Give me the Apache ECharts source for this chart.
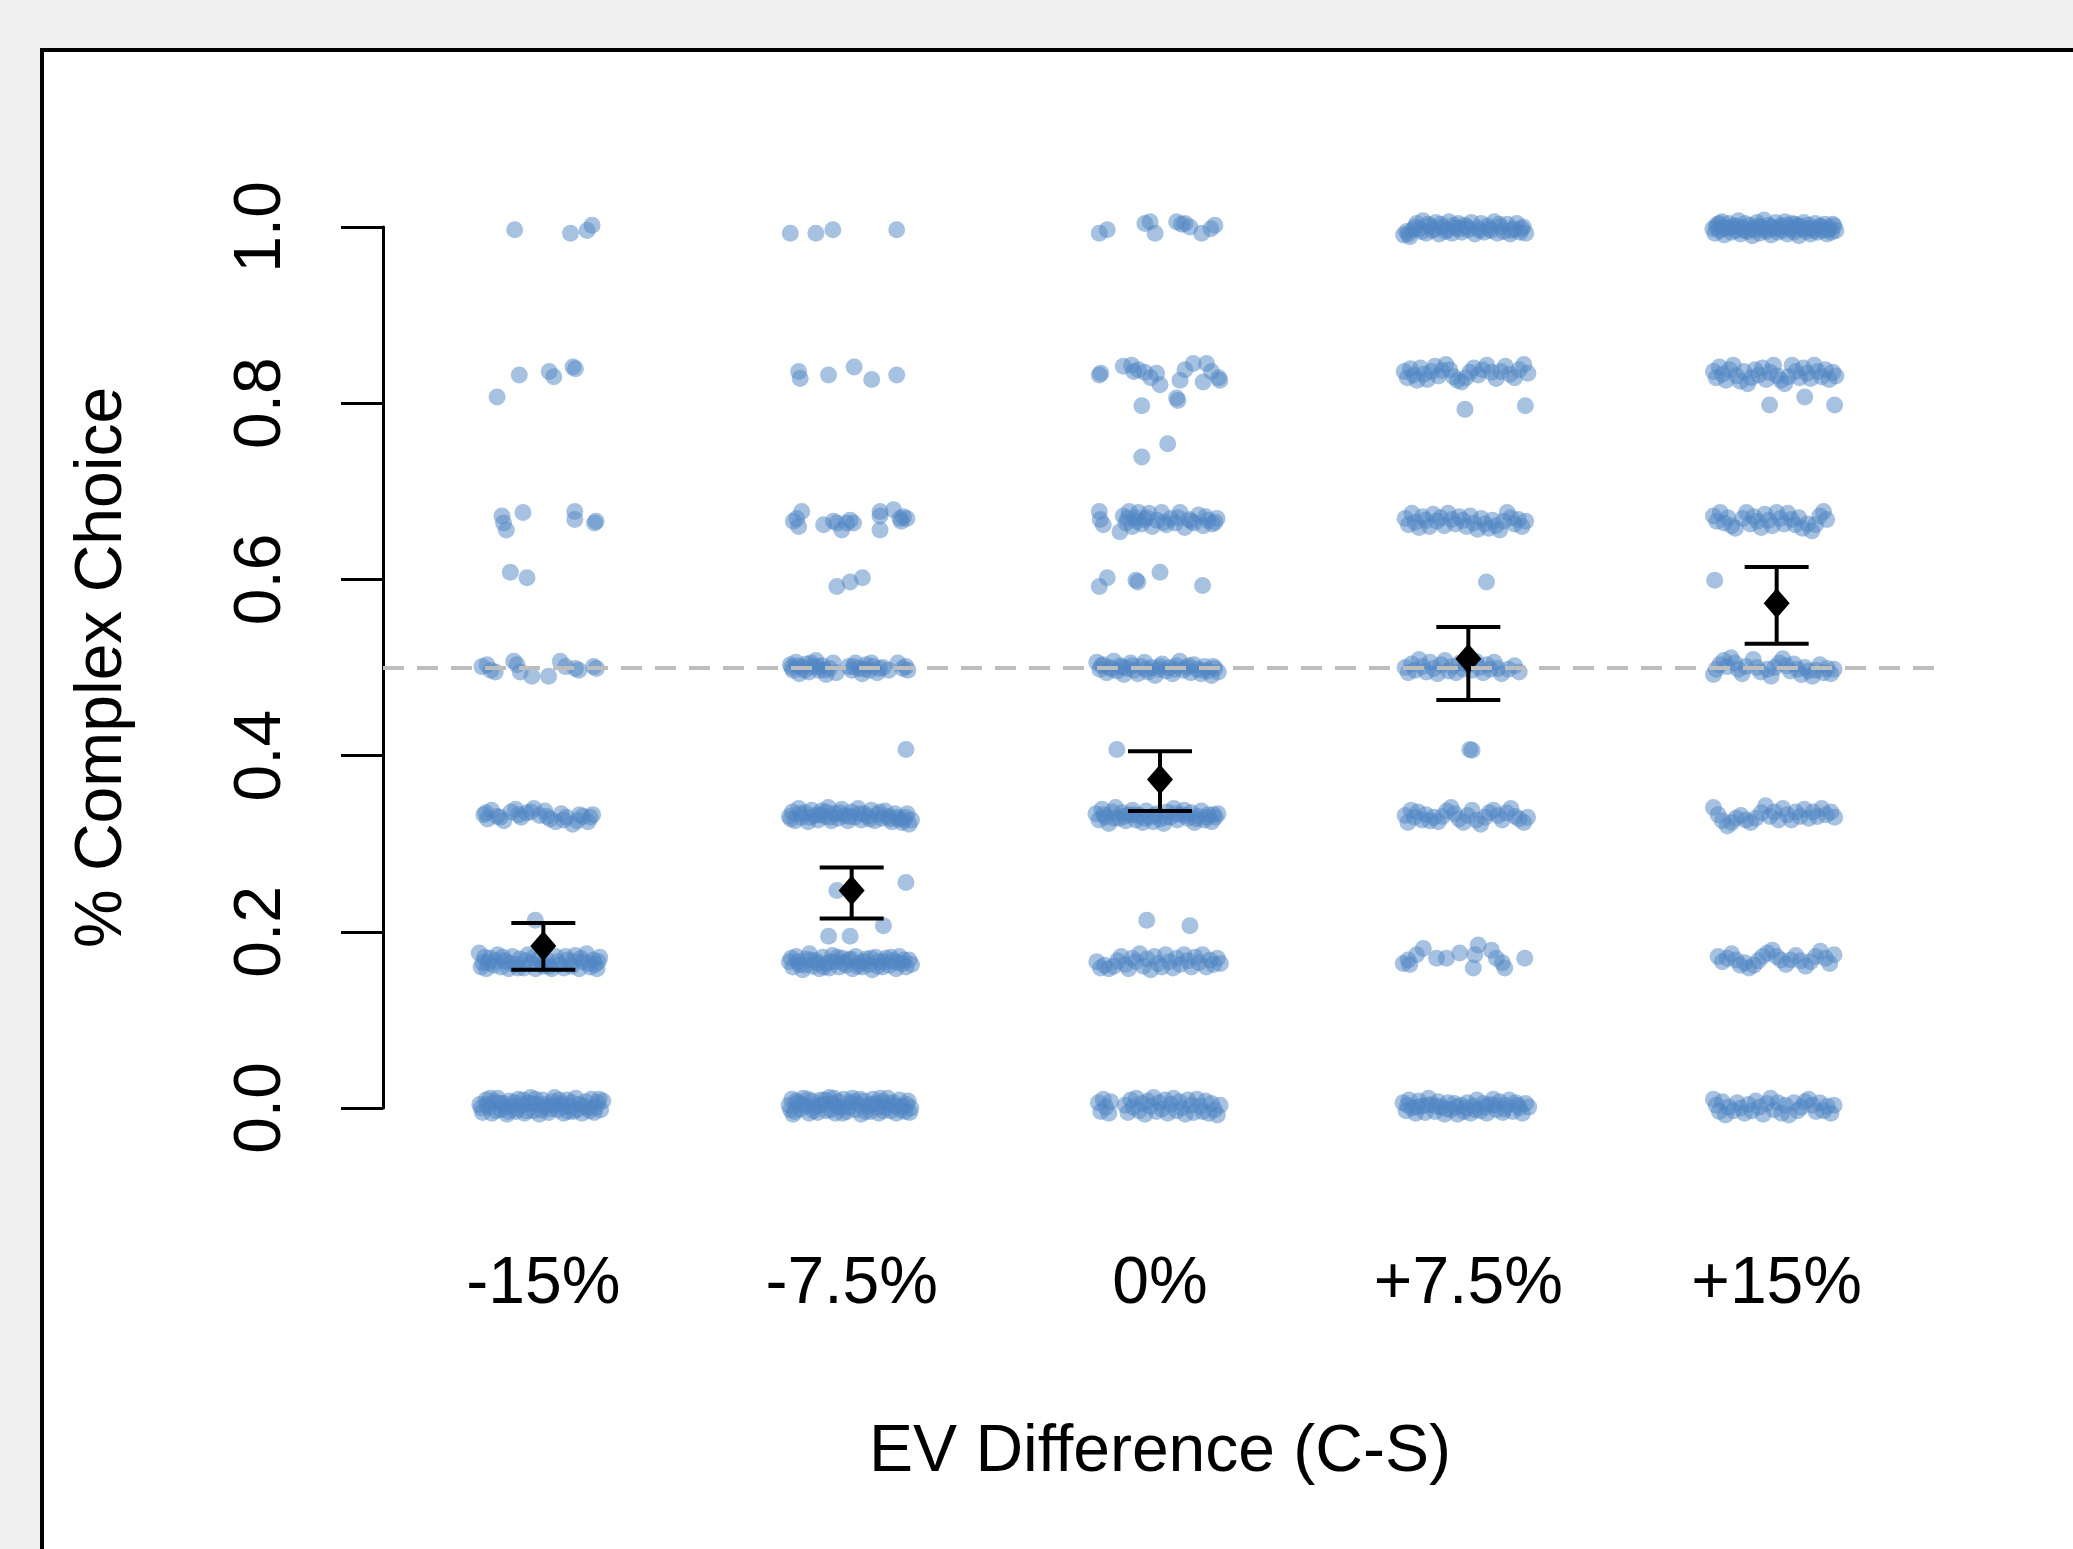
<!DOCTYPE html>
<html>
<head>
<meta charset="utf-8">
<script src="https://cdn.jsdelivr.net/npm/echarts@6/dist/echarts.min.js"></script>
<style>
html,body{margin:0;padding:0;background:#f0f0f0;}
#chart{width:2073px;height:1549px;}
</style>
</head>
<body>
<div id="chart"></div>
<script>
// ---- data ----
const categories = ['-15%', '-7.5%', '0%', '+7.5%', '+15%'];
const meanValues = [0.184, 0.247, 0.373, 0.510, 0.573];
const ciLower   = [0.157, 0.215, 0.337, 0.463, 0.527];
const ciUpper   = [0.210, 0.273, 0.405, 0.546, 0.614];
const referenceLevel = 0.5;
const yTickStep = 0.2;
const xTitle = 'EV Difference (C-S)';
const yTitle = '% Complex Choice';

// individual participants: [horizontal jitter (category units), proportion of complex choices]
const jitterM15 = [
 [-0.093,0.997],[0.088,0.993],[0.142,0.996],[0.158,1.002],
 [-0.150,0.807],[-0.078,0.832],[0.019,0.836],[0.034,0.830],[0.096,0.841],[0.104,0.839],
 [-0.134,0.672],[-0.129,0.664],[-0.120,0.656],[-0.066,0.676],[0.102,0.677],[0.102,0.668],[0.171,0.666],[0.166,0.664],
 [-0.107,0.608],[-0.053,0.602],
 [-0.199,0.501],[-0.183,0.503],[-0.170,0.497],[-0.156,0.495],[-0.096,0.507],[-0.085,0.503],[-0.075,0.495],[-0.037,0.490],[0.017,0.490],[0.055,0.507],[0.072,0.501],[0.104,0.499],[0.115,0.497],[0.163,0.501],[0.172,0.499],
 [-0.193,0.333],[-0.181,0.328],[-0.168,0.338],[-0.150,0.331],[-0.128,0.326],[-0.105,0.336],[-0.090,0.339],[-0.072,0.330],[-0.055,0.335],[-0.031,0.340],[-0.012,0.332],[0.005,0.337],[0.022,0.328],[0.040,0.325],[0.058,0.334],[0.075,0.330],[0.095,0.322],[0.110,0.326],[0.128,0.331],[0.145,0.325],[0.160,0.333],
 [-0.186,0.335],[-0.140,0.330],[-0.080,0.333],[-0.040,0.336],[0.012,0.331],[0.066,0.327],[0.118,0.333],[0.152,0.330],
 [-0.026,0.213],
 [-0.208,0.176],[-0.196,0.165],[-0.185,0.158],[-0.172,0.170],[-0.160,0.162],[-0.148,0.174],[-0.137,0.160],[-0.125,0.167],[-0.112,0.158],[-0.100,0.172],[-0.088,0.163],[-0.076,0.169],[-0.063,0.159],[-0.050,0.174],[-0.038,0.164],[-0.025,0.158],[-0.012,0.170],[0.001,0.161],[0.014,0.167],[0.027,0.158],[0.040,0.172],[0.053,0.163],[0.066,0.159],[0.078,0.168],[0.091,0.161],[0.104,0.173],[0.116,0.158],[0.128,0.166],[0.140,0.175],[0.152,0.160],[0.163,0.168],[0.174,0.158],[0.183,0.171],
 [-0.202,0.160],[-0.178,0.165],[-0.154,0.167],[-0.131,0.171],[-0.106,0.164],[-0.082,0.159],[-0.057,0.167],[-0.031,0.171],[-0.006,0.163],[0.020,0.161],[0.046,0.166],[0.072,0.172],[0.097,0.166],[0.122,0.170],[0.146,0.164],[0.168,0.163],[0.178,0.166],[-0.190,0.171],
 [-0.206,0.004],[-0.197,-0.005],[-0.186,0.009],[-0.178,0.001],[-0.167,-0.006],[-0.159,0.007],[-0.148,0.011],[-0.139,-0.002],[-0.130,0.005],[-0.118,-0.007],[-0.110,0.008],[-0.101,0.002],[-0.089,-0.004],[-0.081,0.010],[-0.070,0.003],[-0.061,-0.006],[-0.052,0.006],[-0.041,0.012],[-0.032,-0.003],[-0.021,0.004],[-0.013,-0.007],[-0.003,0.009],[0.008,0.001],[0.017,-0.005],[0.028,0.007],[0.036,0.012],[0.047,-0.002],[0.057,0.005],[0.066,-0.006],[0.077,0.009],[0.086,0.002],[0.097,-0.004],[0.105,0.011],[0.116,0.004],[0.125,-0.006],[0.136,0.007],[0.145,0.000],[0.156,0.010],[0.165,-0.005],[0.176,0.006],[0.186,-0.002],[0.193,0.008],
 [-0.201,0.000],[-0.183,0.004],[-0.172,0.011],[-0.154,-0.003],[-0.143,0.006],[-0.125,0.001],[-0.113,-0.004],[-0.095,0.006],[-0.084,-0.001],[-0.066,0.009],[-0.055,-0.003],[-0.036,0.005],[-0.026,0.010],[-0.008,-0.002],[0.003,0.004],[0.022,-0.001],[0.033,0.003],[0.051,0.009],[0.062,0.001],[0.081,-0.004],[0.092,0.006],[0.110,-0.002],[0.131,0.002],[0.150,-0.003],[0.170,0.001],[0.181,0.010]
];
const jitterM75 = [
 [-0.199,0.993],[-0.116,0.993],[-0.061,0.997],[0.146,0.997],
 [-0.172,0.836],[-0.167,0.828],[-0.075,0.832],[0.008,0.841],[0.065,0.827],[0.146,0.832],
 [-0.189,0.666],[-0.178,0.669],[-0.172,0.660],[-0.162,0.677],[-0.091,0.662],[-0.059,0.666],[-0.048,0.664],[-0.032,0.656],[-0.016,0.664],[-0.005,0.667],[0.006,0.664],[0.092,0.677],[0.092,0.672],[0.092,0.656],[0.136,0.679],[0.157,0.669],[0.161,0.666],[0.168,0.671],[0.179,0.669],
 [-0.048,0.592],[-0.005,0.597],[0.035,0.602],
 [-0.199,0.503],[-0.190,0.497],[-0.181,0.506],[-0.170,0.493],[-0.160,0.500],[-0.148,0.504],[-0.138,0.495],[-0.127,0.501],[-0.116,0.508],[-0.106,0.497],[-0.095,0.502],[-0.083,0.492],[-0.072,0.499],[-0.060,0.505],[-0.050,0.494],[-0.010,0.501],[0.001,0.497],[0.012,0.505],[0.023,0.499],[0.034,0.493],[0.046,0.503],[0.058,0.497],[0.070,0.501],[0.083,0.494],[0.102,0.500],[0.120,0.497],[0.150,0.505],[0.166,0.499],[0.176,0.501],[0.182,0.497],
 [-0.194,0.500],[-0.175,0.502],[-0.153,0.497],[-0.132,0.505],[-0.110,0.501],[-0.088,0.497],[0.006,0.501],[0.040,0.498],[0.064,0.505],[0.090,0.499],
 [0.176,0.407],
 [-0.202,0.331],[-0.192,0.336],[-0.183,0.326],[-0.172,0.340],[-0.162,0.330],[-0.151,0.335],[-0.141,0.325],[-0.130,0.338],[-0.119,0.332],[-0.109,0.327],[-0.098,0.337],[-0.087,0.331],[-0.076,0.341],[-0.066,0.326],[-0.055,0.334],[-0.044,0.329],[-0.033,0.339],[-0.022,0.332],[-0.012,0.326],[-0.001,0.336],[0.010,0.330],[0.021,0.340],[0.032,0.327],[0.042,0.334],[0.053,0.331],[0.064,0.338],[0.075,0.326],[0.086,0.333],[0.097,0.329],[0.108,0.337],[0.119,0.331],[0.130,0.325],[0.141,0.334],[0.152,0.328],[0.163,0.324],[0.174,0.330],[0.186,0.322],[0.194,0.327],
 [-0.197,0.328],[-0.167,0.334],[-0.136,0.330],[-0.104,0.333],[-0.071,0.330],[-0.039,0.335],[-0.007,0.331],[0.026,0.334],[0.058,0.328],[0.091,0.336],[0.124,0.328],[0.146,0.330],[0.169,0.327],[0.180,0.334],[-0.083,0.336],
 [0.176,0.256],[-0.048,0.247],
 [0.103,0.207],[-0.075,0.195],[-0.005,0.195],
 [-0.202,0.166],[-0.191,0.160],[-0.180,0.172],[-0.170,0.163],[-0.159,0.157],[-0.148,0.169],[-0.137,0.175],[-0.127,0.161],[-0.116,0.167],[-0.105,0.158],[-0.094,0.171],[-0.084,0.164],[-0.073,0.159],[-0.062,0.173],[-0.051,0.166],[-0.040,0.160],[-0.030,0.170],[-0.019,0.162],[-0.008,0.168],[0.003,0.158],[0.013,0.172],[0.024,0.164],[0.035,0.160],[0.046,0.169],[0.057,0.163],[0.067,0.157],[0.078,0.171],[0.089,0.166],[0.100,0.160],[0.111,0.170],[0.122,0.162],[0.133,0.167],[0.144,0.158],[0.155,0.172],[0.165,0.164],[0.176,0.160],[0.186,0.168],[0.194,0.163],
 [-0.196,0.170],[-0.175,0.166],[-0.153,0.162],[-0.132,0.168],[-0.110,0.164],[-0.089,0.160],[-0.067,0.166],[-0.046,0.171],[-0.024,0.165],[-0.003,0.169],[0.019,0.161],[0.040,0.166],[0.062,0.170],[0.084,0.161],[0.105,0.166],[0.127,0.171],[0.149,0.165],[0.170,0.168],
 [-0.203,0.003],[-0.194,0.010],[-0.185,-0.004],[-0.175,0.006],[-0.166,-0.001],[-0.157,0.011],[-0.147,0.002],[-0.138,-0.006],[-0.128,0.008],[-0.119,0.001],[-0.110,-0.005],[-0.100,0.009],[-0.091,0.004],[-0.081,-0.003],[-0.072,0.012],[-0.063,0.005],[-0.053,-0.006],[-0.044,0.007],[-0.034,0.000],[-0.025,0.010],[-0.016,-0.004],[-0.006,0.006],[0.003,0.011],[0.013,-0.002],[0.022,0.004],[0.031,-0.007],[0.041,0.008],[0.050,0.002],[0.060,-0.004],[0.069,0.010],[0.079,0.005],[0.088,-0.006],[0.098,0.007],[0.107,0.001],[0.117,0.011],[0.126,-0.003],[0.136,0.006],[0.145,-0.006],[0.155,0.009],[0.164,0.002],[0.174,-0.004],[0.183,0.008],[0.192,0.000],
 [-0.198,-0.002],[-0.180,0.008],[-0.161,0.004],[-0.142,0.010],[-0.124,-0.003],[-0.105,0.003],[-0.086,0.009],[-0.067,-0.002],[-0.048,0.002],[-0.029,-0.006],[-0.011,0.001],[0.008,0.007],[0.027,0.010],[0.045,-0.004],[0.064,0.004],[0.083,0.001],[0.102,-0.003],[0.121,0.005],[0.140,0.002],[0.159,-0.002],[0.178,0.004],[0.188,-0.005],[-0.190,-0.007],[0.093,0.011],[-0.057,0.011]
];
const jitterZero = [
 [-0.197,0.993],[-0.171,0.997],[-0.049,1.004],[-0.032,1.006],[-0.016,0.993],[0.054,1.006],[0.070,1.003],[0.081,1.004],[0.097,1.000],[0.135,0.993],[0.165,0.998],[0.178,1.002],
 [-0.197,0.832],[-0.192,0.834],[-0.119,0.842],[-0.092,0.843],[-0.085,0.836],[-0.070,0.838],[-0.049,0.835],[-0.030,0.829],[-0.011,0.834],[0.000,0.821],[0.065,0.826],[0.081,0.838],[0.108,0.845],[0.140,0.824],[0.151,0.845],[0.167,0.836],[0.190,0.829],[0.194,0.826],
 [-0.059,0.797],[0.054,0.806],[0.058,0.803],
 [-0.059,0.739],[0.025,0.754],
 [-0.197,0.677],[-0.194,0.668],[-0.184,0.662],[-0.130,0.654],[-0.119,0.672],[-0.110,0.664],[-0.100,0.677],[-0.090,0.660],[-0.080,0.670],[-0.070,0.676],[-0.060,0.663],[-0.050,0.668],[-0.036,0.675],[-0.025,0.660],[-0.010,0.667],[0.005,0.676],[0.020,0.662],[0.035,0.669],[0.050,0.664],[0.065,0.676],[0.080,0.659],[0.095,0.668],[0.110,0.664],[0.125,0.673],[0.140,0.661],[0.155,0.667],[0.170,0.663],[0.185,0.669],
 [-0.105,0.669],[-0.075,0.666],[-0.043,0.670],[0.012,0.665],[0.058,0.670],[0.102,0.666],[0.148,0.671],[0.178,0.665],
 [-0.197,0.592],[-0.171,0.602],[-0.078,0.599],[-0.072,0.597],[0.000,0.608],[0.138,0.593],
 [-0.205,0.506],[-0.195,0.498],[-0.184,0.503],[-0.173,0.494],[-0.162,0.500],[-0.150,0.507],[-0.139,0.496],[-0.128,0.502],[-0.117,0.492],[-0.106,0.499],[-0.095,0.505],[-0.084,0.497],[-0.072,0.493],[-0.061,0.501],[-0.050,0.506],[-0.039,0.495],[-0.027,0.500],[-0.016,0.491],[-0.004,0.498],[0.007,0.504],[0.018,0.496],[0.030,0.500],[0.041,0.493],[0.053,0.502],[0.064,0.507],[0.076,0.497],[0.087,0.500],[0.099,0.494],[0.110,0.503],[0.121,0.498],[0.133,0.493],[0.144,0.501],[0.156,0.496],[0.167,0.491],[0.178,0.499],[0.189,0.495],
 [-0.190,0.502],[-0.156,0.498],[-0.122,0.500],[-0.090,0.502],[-0.045,0.498],[0.000,0.501],[0.047,0.498],[0.093,0.502],[0.138,0.497],[0.172,0.501],
 [-0.140,0.407],
 [-0.208,0.334],[-0.198,0.327],[-0.188,0.339],[-0.177,0.330],[-0.166,0.323],[-0.155,0.336],[-0.144,0.341],[-0.133,0.329],[-0.122,0.335],[-0.111,0.326],[-0.100,0.333],[-0.089,0.338],[-0.078,0.327],[-0.067,0.332],[-0.056,0.324],[-0.045,0.337],[-0.034,0.330],[-0.022,0.325],[-0.011,0.334],[0.000,0.328],[0.012,0.323],[0.023,0.336],[0.034,0.330],[0.045,0.340],[0.056,0.327],[0.068,0.333],[0.079,0.338],[0.090,0.329],[0.101,0.335],[0.112,0.324],[0.123,0.331],[0.134,0.337],[0.145,0.327],[0.157,0.333],[0.168,0.325],[0.179,0.330],[0.188,0.334],
 [-0.182,0.333],[-0.150,0.329],[-0.116,0.331],[-0.083,0.333],[-0.050,0.329],[-0.017,0.332],[0.017,0.330],[0.050,0.334],[0.084,0.332],[0.118,0.328],[0.151,0.330],[0.174,0.333],
 [-0.043,0.213],[0.097,0.207],
 [-0.205,0.166],[-0.193,0.159],[-0.180,0.162],[-0.166,0.158],[-0.150,0.161],[-0.138,0.167],[-0.126,0.172],[-0.113,0.163],[-0.102,0.158],[-0.090,0.170],[-0.078,0.166],[-0.066,0.175],[-0.054,0.161],[-0.042,0.169],[-0.030,0.157],[-0.018,0.172],[-0.006,0.164],[0.006,0.160],[0.018,0.174],[0.030,0.166],[0.042,0.159],[0.054,0.170],[0.066,0.163],[0.078,0.174],[0.090,0.167],[0.102,0.160],[0.114,0.171],[0.126,0.165],[0.138,0.174],[0.150,0.160],[0.162,0.168],[0.174,0.163],[0.186,0.170],[0.196,0.164],
 [-0.200,0.006],[-0.192,-0.004],[-0.184,0.010],[-0.176,0.001],[-0.166,-0.006],[-0.160,0.007],[-0.113,0.003],[-0.104,-0.005],[-0.095,0.009],[-0.086,0.001],[-0.077,0.011],[-0.068,-0.003],[-0.058,0.005],[-0.049,-0.007],[-0.040,0.008],[-0.031,0.002],[-0.021,0.012],[-0.012,-0.004],[-0.003,0.006],[0.007,-0.001],[0.016,0.009],[0.025,-0.006],[0.035,0.004],[0.044,0.011],[0.054,-0.003],[0.063,0.007],[0.072,0.000],[0.082,-0.007],[0.091,0.009],[0.101,0.003],[0.110,-0.005],[0.120,0.010],[0.129,0.002],[0.139,-0.004],[0.148,0.008],[0.158,-0.006],[0.167,0.005],[0.177,-0.002],[0.186,-0.008],[0.195,0.003]
];
const jitterP75 = [
 [-0.210,0.991],[-0.200,0.995],[-0.190,0.989],[-0.180,0.997],[-0.168,1.004],[-0.158,0.998],[-0.147,1.007],[-0.137,0.993],[-0.126,1.001],[-0.116,0.996],[-0.105,1.005],[-0.095,0.992],[-0.084,1.000],[-0.074,0.995],[-0.063,1.006],[-0.053,0.993],[-0.042,0.999],[-0.032,1.004],[-0.021,0.994],[-0.011,1.002],[0.000,0.997],[0.010,1.005],[0.021,0.992],[0.031,0.999],[0.042,1.004],[0.052,0.994],[0.063,1.001],[0.073,0.996],[0.084,1.006],[0.094,0.993],[0.105,1.000],[0.115,0.995],[0.126,1.003],[0.136,0.992],[0.147,0.998],[0.157,1.004],[0.168,0.994],[0.178,1.000],[0.186,0.993],
 [-0.195,0.992],[-0.173,1.000],[-0.152,0.995],[-0.131,1.003],[-0.110,0.998],[-0.089,1.003],[-0.068,0.997],[-0.047,1.002],[-0.026,0.998],[-0.005,1.000],[0.036,0.996],[0.068,0.998],[0.100,1.003],[0.141,0.996],[0.172,0.998],
 [-0.208,0.836],[-0.198,0.829],[-0.188,0.839],[-0.177,0.832],[-0.166,0.826],[-0.155,0.840],[-0.144,0.833],[-0.133,0.827],[-0.120,0.836],[-0.108,0.842],[-0.097,0.831],[-0.085,0.837],[-0.073,0.844],[-0.060,0.838],[-0.048,0.830],[-0.035,0.826],[-0.022,0.824],[-0.008,0.829],[0.005,0.835],[0.018,0.840],[0.032,0.832],[0.046,0.838],[0.060,0.843],[0.075,0.835],[0.090,0.828],[0.105,0.836],[0.120,0.842],[0.135,0.833],[0.150,0.829],[0.165,0.838],[0.180,0.844],[0.193,0.834],
 [-0.011,0.793],[0.185,0.797],
 [-0.205,0.669],[-0.194,0.662],[-0.183,0.675],[-0.172,0.665],[-0.160,0.659],[-0.149,0.671],[-0.138,0.667],[-0.126,0.660],[-0.114,0.674],[-0.102,0.666],[-0.090,0.670],[-0.078,0.661],[-0.066,0.675],[-0.054,0.668],[-0.042,0.663],[-0.030,0.671],[-0.018,0.667],[-0.006,0.660],[0.006,0.672],[0.018,0.664],[0.030,0.657],[0.042,0.669],[0.054,0.663],[0.066,0.658],[0.078,0.667],[0.090,0.661],[0.102,0.656],[0.114,0.666],[0.126,0.676],[0.138,0.670],[0.150,0.663],[0.162,0.668],[0.174,0.660],[0.186,0.666],
 [0.059,0.597],
 [-0.205,0.500],[-0.195,0.494],[-0.184,0.504],[-0.172,0.497],[-0.160,0.509],[-0.148,0.501],[-0.136,0.495],[-0.124,0.506],[-0.112,0.499],[-0.100,0.493],[-0.088,0.503],[-0.076,0.508],[-0.064,0.496],[-0.052,0.501],[-0.040,0.494],[-0.028,0.505],[-0.016,0.498],[0.000,0.503],[0.012,0.497],[0.024,0.507],[0.036,0.500],[0.048,0.494],[0.060,0.503],[0.072,0.498],[0.084,0.506],[0.096,0.499],[0.108,0.493],[0.130,0.498],[0.150,0.502],[0.165,0.495],
 [0.005,0.407],[0.012,0.406],
 [-0.205,0.332],[-0.196,0.324],[-0.186,0.338],[-0.175,0.330],[-0.163,0.336],[-0.150,0.327],[-0.138,0.333],[-0.125,0.326],[-0.112,0.330],[-0.098,0.325],[-0.084,0.331],[-0.070,0.337],[-0.056,0.341],[-0.044,0.334],[-0.030,0.328],[-0.016,0.324],[-0.002,0.332],[0.012,0.338],[0.026,0.327],[0.040,0.322],[0.054,0.330],[0.068,0.335],[0.082,0.338],[0.096,0.332],[0.110,0.327],[0.124,0.335],[0.138,0.340],[0.152,0.331],[0.165,0.328],[0.180,0.324],[0.192,0.330],
 [-0.211,0.164],[-0.195,0.168],[-0.190,0.163],[-0.168,0.174],[-0.146,0.181],[-0.103,0.170],[-0.071,0.170],[-0.028,0.176],[0.016,0.159],[0.021,0.174],[0.032,0.185],[0.075,0.179],[0.091,0.170],[0.110,0.165],[0.118,0.159],[0.183,0.170],
 [-0.212,0.006],[-0.202,-0.003],[-0.192,0.009],[-0.182,0.000],[-0.171,-0.006],[-0.161,0.008],[-0.150,0.002],[-0.140,-0.005],[-0.129,0.011],[-0.119,0.004],[-0.108,-0.004],[-0.098,0.007],[-0.087,0.001],[-0.077,-0.007],[-0.066,0.006],[-0.056,-0.002],[-0.045,0.005],[-0.035,-0.007],[-0.024,0.003],[-0.014,-0.004],[-0.003,0.006],[0.007,-0.006],[0.018,0.002],[0.028,0.009],[0.039,-0.003],[0.049,0.005],[0.060,-0.006],[0.070,0.004],[0.081,0.010],[0.091,-0.002],[0.102,0.007],[0.112,-0.005],[0.123,0.003],[0.133,0.009],[0.144,-0.004],[0.154,0.006],[0.165,0.000],[0.175,-0.006],[0.186,0.005],[0.196,0.001],
 [-0.197,0.003],[-0.166,0.001],[-0.135,0.003],[-0.103,0.002],[-0.072,-0.001],[-0.040,0.001],[-0.009,0.000],[0.023,-0.002],[0.055,0.001],[0.086,0.003],[0.118,-0.001],[0.160,0.003]
];
const jitterP15 = [
 [-0.207,0.998],[-0.200,0.993],[-0.192,1.003],[-0.185,0.996],[-0.177,1.006],[-0.170,0.991],[-0.162,0.999],[-0.155,1.004],[-0.147,0.994],[-0.140,1.001],[-0.132,0.996],[-0.124,1.007],[-0.117,0.992],[-0.109,0.999],[-0.102,1.004],[-0.094,0.995],[-0.087,1.002],[-0.079,0.990],[-0.071,0.997],[-0.064,1.005],[-0.056,0.993],[-0.049,1.000],[-0.041,1.008],[-0.034,0.995],[-0.026,1.002],[-0.018,0.991],[-0.011,0.998],[-0.003,1.005],[0.004,0.994],[0.012,1.001],[0.019,0.996],[0.027,1.006],[0.035,0.992],[0.042,0.999],[0.050,1.004],[0.057,0.994],[0.065,1.001],[0.072,0.990],[0.080,0.998],[0.088,1.005],[0.095,0.995],[0.103,1.002],[0.110,0.992],[0.118,0.999],[0.125,1.004],[0.133,0.994],[0.141,1.001],[0.148,0.996],[0.156,1.003],[0.163,0.992],[0.171,0.999],[0.178,0.994],[0.186,1.001],[0.192,0.996],
 [-0.196,1.000],[-0.174,0.998],[-0.151,0.999],[-0.128,1.001],[-0.106,0.996],[-0.083,0.998],[-0.060,1.001],[-0.037,0.997],[-0.015,1.000],[0.008,0.998],[0.031,1.002],[0.053,0.997],[0.076,1.001],[0.099,0.998],[0.122,0.996],[0.144,1.000],[0.167,0.997],[0.182,1.003],[-0.185,1.004],[0.060,1.003],
 [-0.205,0.836],[-0.196,0.829],[-0.186,0.841],[-0.175,0.833],[-0.164,0.826],[-0.153,0.838],[-0.141,0.843],[-0.130,0.831],[-0.118,0.825],[-0.106,0.836],[-0.094,0.822],[-0.082,0.829],[-0.070,0.838],[-0.058,0.832],[-0.046,0.840],[-0.034,0.827],[-0.022,0.835],[-0.010,0.843],[0.002,0.831],[0.014,0.826],[0.026,0.822],[0.038,0.830],[0.050,0.843],[0.062,0.836],[0.074,0.829],[0.086,0.840],[0.098,0.834],[0.110,0.828],[0.122,0.843],[0.134,0.836],[0.146,0.830],[0.158,0.838],[0.170,0.827],[0.182,0.835],[0.192,0.831],
 [-0.023,0.798],[0.091,0.807],[0.188,0.798],
 [-0.205,0.672],[-0.194,0.666],[-0.183,0.676],[-0.170,0.664],[-0.158,0.670],[-0.146,0.661],[-0.134,0.658],[-0.110,0.669],[-0.098,0.676],[-0.086,0.663],[-0.074,0.671],[-0.062,0.666],[-0.050,0.659],[-0.038,0.674],[-0.026,0.667],[-0.014,0.661],[0.000,0.676],[0.012,0.669],[0.024,0.663],[0.036,0.675],[0.048,0.668],[0.060,0.662],[0.072,0.670],[0.084,0.658],[0.100,0.663],[0.114,0.655],[0.126,0.662],[0.140,0.672],[0.152,0.677],[0.162,0.668],
 [-0.201,0.599],
 [-0.205,0.492],[-0.196,0.498],[-0.185,0.503],[-0.172,0.508],[-0.160,0.501],[-0.148,0.511],[-0.136,0.505],[-0.124,0.498],[-0.112,0.493],[-0.100,0.501],[-0.076,0.509],[-0.064,0.500],[-0.052,0.495],[-0.030,0.498],[-0.018,0.490],[-0.006,0.500],[0.008,0.505],[0.020,0.510],[0.032,0.502],[0.044,0.496],[0.056,0.504],[0.068,0.498],[0.080,0.492],[0.092,0.500],[0.104,0.496],[0.116,0.490],[0.128,0.497],[0.140,0.503],[0.152,0.494],[0.164,0.499],[0.176,0.493],[0.186,0.498],
 [-0.205,0.341],[-0.190,0.333],[-0.176,0.326],[-0.160,0.320],[-0.146,0.324],[-0.132,0.329],[-0.116,0.332],[-0.100,0.327],[-0.084,0.324],[-0.068,0.329],[-0.050,0.335],[-0.036,0.343],[-0.022,0.331],[-0.008,0.336],[0.006,0.327],[0.020,0.340],[0.034,0.333],[0.048,0.327],[0.062,0.336],[0.076,0.331],[0.090,0.339],[0.104,0.329],[0.118,0.336],[0.132,0.331],[0.146,0.340],[0.160,0.333],[0.176,0.336],[0.188,0.330],
 [-0.190,0.172],[-0.176,0.166],[-0.160,0.170],[-0.146,0.175],[-0.132,0.168],[-0.118,0.162],[-0.104,0.165],[-0.090,0.159],[-0.074,0.162],[-0.060,0.167],[-0.046,0.172],[-0.030,0.176],[-0.014,0.179],[0.000,0.172],[0.014,0.168],[0.030,0.163],[0.046,0.168],[0.062,0.173],[0.078,0.167],[0.094,0.161],[0.110,0.166],[0.126,0.172],[0.142,0.178],[0.158,0.170],[0.172,0.164],[0.186,0.174],
 [-0.205,0.010],[-0.196,0.003],[-0.186,-0.004],[-0.176,0.007],[-0.166,-0.008],[-0.156,0.001],[-0.140,-0.003],[-0.128,0.006],[-0.116,0.000],[-0.104,-0.006],[-0.092,0.004],[-0.080,-0.003],[-0.068,0.008],[-0.056,0.001],[-0.044,-0.007],[-0.032,0.005],[-0.020,0.011],[-0.008,-0.002],[0.004,0.006],[0.016,-0.006],[0.028,0.003],[0.040,-0.008],[0.056,0.006],[0.068,-0.003],[0.080,0.001],[0.092,0.007],[0.104,0.010],[0.116,0.003],[0.128,-0.004],[0.140,0.006],[0.152,-0.003],[0.164,0.002],[0.176,-0.006],[0.186,0.003]
];
const jitterByCategory = [jitterM15, jitterM75, jitterZero, jitterP75, jitterP15];

// ---- build series data from the arrays ----
const pointData = [];
jitterByCategory.forEach((arr, i) => arr.forEach(p => pointData.push([i + 1 + p[0], p[1]])));
const meanData = meanValues.map((m, i) => [i + 1, m]);
const errData = ciLower.map((lo, i) => [i + 1, lo, ciUpper[i]]);
const catPositions = categories.map((c, i) => i + 1);

const FONT = 'Liberation Sans, Arial, sans-serif';
const chart = echarts.init(document.getElementById('chart'), null, {renderer: 'canvas'});
chart.setOption({
  animation: false,
  backgroundColor: '#f0f0f0',
  graphic: [{
    type: 'rect', z: -100, silent: true,
    shape: {x: 42, y: 50, width: 2200, height: 1700},
    style: {fill: '#ffffff', stroke: '#000000', lineWidth: 4}
  }],
  grid: {left: 383, right: 136, top: 227, bottom: 441, containLabel: false},
  xAxis: {
    type: 'value', min: 0.48, max: 5.52,
    axisLine: {show: false}, axisTick: {show: false}, splitLine: {show: false},
    axisLabel: {
      show: true, customValues: catPositions, margin: 144,
      formatter: v => categories[Math.round(v) - 1] || '',
      fontSize: 66, color: '#000', fontFamily: FONT
    },
    name: xTitle, nameLocation: 'middle', nameGap: 312, nameMoveOverlap: false,
    nameTextStyle: {fontSize: 66, color: '#000', fontFamily: FONT}
  },
  yAxis: {
    type: 'value', min: 0, max: 1, interval: yTickStep,
    axisLine: {show: true, lineStyle: {color: '#000', width: 3}},
    axisTick: {show: true, length: 42, lineStyle: {color: '#000', width: 3}},
    splitLine: {show: false},
    axisLabel: {
      rotate: 90, margin: 88, fontSize: 66, color: '#000', fontFamily: FONT,
      formatter: v => v.toFixed(1)
    },
    name: yTitle, nameLocation: 'middle', nameGap: 247, nameRotate: 90, nameMoveOverlap: false,
    nameTextStyle: {fontSize: 66, color: '#000', fontFamily: FONT}
  },
  series: [
    {
      type: 'line', data: [], z: 1, silent: true,
      markLine: {
        silent: true, symbol: ['none', 'none'], label: {show: false},
        lineStyle: {color: '#bdbdbd', width: 4, type: [21, 13]},
        data: [{yAxis: referenceLevel}]
      }
    },
    {
      type: 'scatter', name: 'participants', data: pointData, z: 2, clip: false,
      symbol: 'circle', symbolSize: 17, large: false,
      itemStyle: {color: 'rgba(79,134,196,0.5)', opacity: 1},
      emphasis: {disabled: true}
    },
    {
      type: 'custom', name: 'CI', data: errData, z: 3, clip: false,
      encode: {x: 0, y: [1, 2]},
      renderItem: (params, api) => {
        const x = api.value(0);
        const pLo = api.coord([x, api.value(1)]);
        const pHi = api.coord([x, api.value(2)]);
        const hw = 32;
        const st = {stroke: '#000', lineWidth: 4};
        return {type: 'group', children: [
          {type: 'line', shape: {x1: pLo[0], y1: pLo[1], x2: pHi[0], y2: pHi[1]}, style: st},
          {type: 'line', shape: {x1: pLo[0] - hw, y1: pLo[1], x2: pLo[0] + hw, y2: pLo[1]}, style: st},
          {type: 'line', shape: {x1: pHi[0] - hw, y1: pHi[1], x2: pHi[0] + hw, y2: pHi[1]}, style: st}
        ]};
      }
    },
    {
      type: 'scatter', name: 'mean', data: meanData, z: 4,
      symbol: 'diamond', symbolSize: [26, 30],
      itemStyle: {color: '#000', opacity: 1},
      emphasis: {disabled: true}
    }
  ]
});
</script>
</body>
</html>
